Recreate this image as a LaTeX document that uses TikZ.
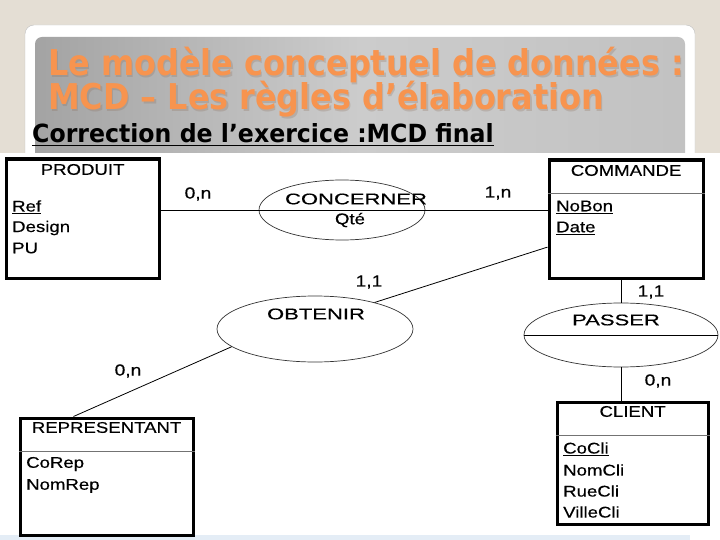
\documentclass[tikz,border=0pt]{standalone}
\usepackage{fontspec}
\setmainfont{Liberation Sans}
\newfontfamily\titlefont[FakeStretch=0.897]{DejaVu Sans}
\newfontfamily\subfont[FakeStretch=0.945]{DejaVu Sans}
\newfontfamily\diagfont[FakeStretch=1.2,FakeBold=0.35]{Liberation Sans}
\newfontfamily\relfont[FakeStretch=1.42,FakeBold=0.35]{Liberation Sans}
\usetikzlibrary{shapes.geometric,calc}
\definecolor{beige}{HTML}{E4DED4}
\definecolor{titleor}{HTML}{F7944F}
\definecolor{titlesh}{HTML}{8A6A55}
\definecolor{footblue}{HTML}{E4EDF6}
\tikzset{
  ent/.style={draw,line width=3.2pt,anchor=north west,inner sep=0pt},
  rel/.style={draw=black!80,ellipse,line width=0.7pt,inner sep=0pt},
  card/.style={font=\diagfont\fontsize{16}{18}\selectfont,inner sep=0pt},
  etitle/.style={font=\diagfont\fontsize{15.5}{17}\selectfont,inner sep=0pt},
  rtitle/.style={font=\relfont\fontsize{15.5}{17}\selectfont,inner sep=0pt},
  attr/.style={font=\diagfont\fontsize{15.5}{17}\selectfont,anchor=west,inner sep=0pt},
  link/.style={line width=0.8pt},
  sepline/.style={line width=0.6pt,draw=black!55},
  ttl/.style={font=\titlefont\bfseries\fontsize{35.5}{38}\selectfont,anchor=base west,inner sep=0pt,text=titleor},
  ttlsh/.style={font=\titlefont\bfseries\fontsize{35.5}{38}\selectfont,anchor=base west,inner sep=0pt,text=titlesh,opacity=0.25},
}
\begin{document}
\begin{tikzpicture}[x=1pt,y=-1pt]
\useasboundingbox (0,0) rectangle (720,540);
% slide background
\fill[beige] (0,0) rectangle (720,540);
\filldraw[fill=white,draw=black!25,rounded corners=9pt] (25,25) rectangle (695,200);
\shade[left color=black!36,right color=black!24,middle color=black!20,rounded corners=7pt] (35,37) rectangle (685,200);
% titles
\node[ttlsh] (t1s) at (49.5,77.5) {Le modèle conceptuel de données :};
\node[ttl] (t1) at (48,76) {Le modèle conceptuel de données :};
\node[ttlsh] (t2s) at (49.5,111.5) {MCD – Les règles d’élaboration};
\node[ttl] (t2) at (48,110) {MCD – Les règles d’élaboration};
\node[font=\subfont\bfseries\fontsize{25}{27}\selectfont,anchor=base west,inner sep=0pt] (sub) at (32,143) {\underline{Correction de l’exercice :MCD final}};
% diagram area
\fill[white] (0,153) rectangle (720,540);
\fill[footblue] (0,535) rectangle (690,540);
% entities
\node[ent,minimum width=153pt,minimum height=119pt] (produit) at (4.5,157.5) {};
\node[ent,minimum width=154pt,minimum height=118pt] (commande) at (547.5,158.5) {};
\node[ent,minimum width=173pt,minimum height=117pt] (representant) at (18.5,416.5) {};
\node[ent,minimum width=151pt,minimum height=122pt] (client) at (555.5,400.5) {};
% entity separators
\draw[sepline] ($(commande.north west)+(0,35)$) -- ($(commande.north east)+(0,35)$);
\draw[sepline] ($(representant.north west)+(0,35)$) -- ($(representant.north east)+(0,35)$);
\draw[sepline] ($(client.north west)+(0,35)$) -- ($(client.north east)+(0,35)$);
% entity titles
\node[etitle] (produitT) at ($(produit.north)+(0,12)$) {PRODUIT};
\node[etitle] (commandeT) at ($(commande.north)+(0,12)$) {COMMANDE};
\node[etitle] (representantT) at ($(representant.north)+(0,11)$) {REPRESENTANT};
\node[etitle] (clientT) at ($(client.north)+(0,11)$) {CLIENT};
% attributes
\node[attr] (pa1) at (12,207) {\underline{Ref}};
\node[attr] (pa2) at (12,228) {Design};
\node[attr] (pa3) at (12,248) {PU};
\node[attr] (ca1) at (556,207) {\underline{NoBon}};
\node[attr] (ca2) at (556,228) {\underline{Date}};
\node[attr] (ra1) at (26,464) {CoRep};
\node[attr] (ra2) at (26,486) {NomRep};
\node[attr] (la1) at (563,449) {\underline{CoCli}};
\node[attr] (la2) at (563,470) {NomCli};
\node[attr] (la3) at (563,491) {RueCli};
\node[attr] (la4) at (563,512) {VilleCli};
% relations
\node[rel,minimum width=166pt,minimum height=60pt] (concerner) at (342,210) {};
\node[rtitle] (concernerT) at (356,199) {CONCERNER};
\node[etitle] (concernerA) at ($(concerner.center)+(8,10)$) {Qté};
\node[rel,minimum width=196pt,minimum height=66pt] (obtenir) at (315,329) {};
\node[rtitle] (obtenirT) at (316,314) {OBTENIR};
\node[rel,minimum width=194pt,minimum height=64pt] (passer) at (621,335) {};
\node[rtitle] (passerT) at (616,320) {PASSER};
\draw[link] (passer.west) -- (passer.east);
% connectors
\draw[link] (concerner.center -| produit.east) -- (concerner.center -| commande.west);
\draw[link] ($(commande.west)+(0,28)$) -- (obtenir.24);
\draw[link] (obtenir.192) -- ($(representant.north west)+(55,0)$);
\draw[link] (passer.north) -- (passer.north |- commande.south);
\draw[link] (passer.south) -- (passer.south |- client.north);
% cardinalities
\node[card] (c1) at (198,194) {0,n};
\node[card] (c2) at (498,193) {1,n};
\node[card] (c3) at (369,282) {1,1};
\node[card] (c4) at (128,371) {0,n};
\node[card] (c5) at (651,292) {1,1};
\node[card] (c6) at (658,381) {0,n};
\end{tikzpicture}
\end{document}
